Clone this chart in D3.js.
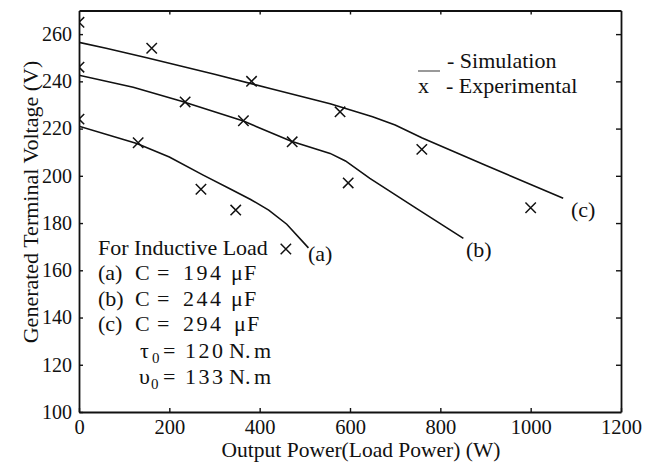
<!DOCTYPE html>
<html>
<head>
<meta charset="utf-8">
<script src="https://cdn.jsdelivr.net/npm/d3@7/dist/d3.min.js"></script>
<style>
  html, body { margin: 0; padding: 0; background: #fff; }
  svg { display: block; }
  text { font-family: "Liberation Serif", "Times New Roman", serif; fill: #111; }
</style>
</head>
<body>
<svg id="chart" width="658" height="464"></svg>
<script>
// Axis ticks
const powerTicks = [0, 200, 400, 600, 800, 1000, 1200];
const voltageTicks = [100, 120, 140, 160, 180, 200, 220, 240, 260];

// Simulated curves: output power (W) and terminal voltage (V)
const simAPower   = [0, 128, 200, 275, 334, 380, 420, 460, 508];
const simAVoltage = [221, 213.7, 208, 200.3, 194.5, 190, 185.5, 179.5, 169.5];

const simBPower   = [0, 120, 227, 364, 470, 556, 590, 644, 747, 851];
const simBVoltage = [242.6, 237.5, 231.6, 223.2, 214.6, 209.5, 206.3, 198.9, 186.2, 173.5];

const simCPower   = [0, 60, 150, 300, 423, 556, 650, 700, 760, 900, 1072];
const simCVoltage = [256.5, 254, 250, 243, 237, 230.5, 225, 221.5, 216, 204.5, 190.5];

// Experimental measurements
const expAPower   = [0, 131, 270, 347, 458];
const expAVoltage = [224, 214, 194.3, 185.5, 169];

const expBPower   = [0, 235, 364, 472, 596];
const expBVoltage = [246, 231.3, 223.3, 214.4, 197];

const expCPower   = [0, 161, 382, 578, 759, 1000];
const expCVoltage = [265, 254, 240, 227.1, 211.2, 186.5];

const curveNames = ["(a)", "(b)", "(c)"];

const svg = d3.select("#chart");
const plotLeft = 79, plotRight = 621, plotTop = 10.5, plotBottom = 412;

const x = d3.scaleLinear().domain([0, 1200]).range([plotLeft, plotRight]);
const y = d3.scaleLinear().domain([100, 270]).range([plotBottom, plotTop]);

// Clip region for the data marks
svg.append("defs").append("clipPath").attr("id", "plotClip")
  .append("rect").attr("x", plotLeft).attr("y", plotTop)
  .attr("width", plotRight - plotLeft).attr("height", plotBottom - plotTop);

// Axes with inward ticks
const axisStyle = g => {
  g.selectAll("path.domain").attr("stroke", "#111").attr("stroke-width", 1.8);
  g.selectAll(".tick line").attr("stroke", "#111").attr("stroke-width", 1.4);
  g.selectAll(".tick text").attr("fill", "#111");
};

svg.append("g").attr("transform", `translate(0,${plotBottom})`)
  .call(d3.axisBottom(x).tickValues(powerTicks).tickSizeInner(-4).tickSizeOuter(0).tickPadding(7.5).tickFormat(d3.format("d")))
  .call(axisStyle)
  .call(g => g.selectAll(".tick text").attr("font-size", 20.5));

svg.append("g").attr("transform", `translate(${plotLeft},0)`)
  .call(d3.axisLeft(y).tickValues(voltageTicks).tickSizeInner(-4).tickSizeOuter(0).tickPadding(7).tickFormat(d3.format("d")))
  .call(axisStyle)
  .call(g => g.selectAll(".tick text").attr("font-size", 20));

svg.append("g").attr("transform", `translate(0,${plotTop})`)
  .call(d3.axisTop(x).tickValues(powerTicks.slice(1, -1)).tickSizeInner(-4).tickSizeOuter(0).tickFormat(""))
  .call(axisStyle);

svg.append("g").attr("transform", `translate(${plotRight},0)`)
  .call(d3.axisRight(y).tickValues(voltageTicks.slice(1)).tickSizeInner(-5).tickSizeOuter(0).tickFormat(""))
  .call(axisStyle);

// Simulation lines
const line = d3.line().x(d => x(d[0])).y(d => y(d[1]));
const sims = [
  d3.zip(simAPower, simAVoltage),
  d3.zip(simBPower, simBVoltage),
  d3.zip(simCPower, simCVoltage)
];
svg.append("g").attr("clip-path", "url(#plotClip)")
  .selectAll("path").data(sims).join("path")
  .attr("d", line)
  .attr("fill", "none").attr("stroke", "#111").attr("stroke-width", 1.6);

// Experimental crosses
const exps = [
  d3.zip(expAPower, expAVoltage),
  d3.zip(expBPower, expBVoltage),
  d3.zip(expCPower, expCVoltage)
].flat();
const s = 5.2;
svg.append("g").attr("clip-path", "url(#plotClip)")
  .selectAll("path").data(exps).join("path")
  .attr("d", d => {
    const cx = x(d[0]), cy = y(d[1]);
    return `M${cx - s},${cy - s}L${cx + s},${cy + s}M${cx - s},${cy + s}L${cx + s},${cy - s}`;
  })
  .attr("fill", "none").attr("stroke", "#111").attr("stroke-width", 1.5);

// Curve labels at the end of each line
const labelPos = [[308, 261], [466, 257], [571, 217]];
svg.append("g").selectAll("text").data(curveNames).join("text")
  .attr("x", (d, i) => labelPos[i][0]).attr("y", (d, i) => labelPos[i][1])
  .attr("font-size", 22).text(d => d);

// Axis titles
svg.append("text").attr("x", 361).attr("y", 457).attr("text-anchor", "middle")
  .attr("font-size", 21.5).text("Output Power(Load Power) (W)");
svg.append("text").attr("transform", "translate(38,202) rotate(-90)").attr("text-anchor", "middle")
  .attr("font-size", 22).text("Generated Terminal Voltage (V)");

// Legend
svg.append("line").attr("x1", 418).attr("x2", 440).attr("y1", 71).attr("y2", 71)
  .attr("stroke", "#555").attr("stroke-width", 1.2);
svg.append("text").attr("x", 447).attr("y", 68).attr("font-size", 22).text("- Simulation");
svg.append("text").attr("x", 418).attr("y", 93).attr("font-size", 22).text("x");
svg.append("text").attr("x", 446).attr("y", 93).attr("font-size", 22).text("- Experimental");

// Operating conditions
const note = svg.append("g").attr("font-size", 22);
note.append("text").attr("x", 98).attr("y", 255).text("For Inductive Load");

const capLines = [["(a)", "194", 280, 231, 244], ["(b)", "244", 306, 231, 244], ["(c)", "294", 331, 234, 247]];
capLines.forEach(([tag, val, by, mux, fx]) => {
  const t = note.append("text").attr("y", by);
  t.append("tspan").attr("x", 98).text(tag);
  t.append("tspan").attr("x", 135).text("C");
  t.append("tspan").attr("x", 157).text("=");
  t.append("tspan").attr("x", 183).attr("letter-spacing", 2.5).text(val);
  t.append("tspan").attr("x", mux).text("\u03bc");
  t.append("tspan").attr("x", fx).text("F");
});

const torqueLines = [["\u03c4", "120", 358, 140], ["\u03c5", "133", 384, 139]];
torqueLines.forEach(([sym, val, by, sx]) => {
  const t = note.append("text").attr("y", by);
  t.append("tspan").attr("x", sx).text(sym);
  t.append("tspan").attr("x", sx + 12).attr("dy", 5).attr("font-size", 15).text("0");
  t.append("tspan").attr("x", 163).attr("dy", -5).text("=");
  t.append("tspan").attr("x", 185).attr("letter-spacing", 2.5).text(val);
  t.append("tspan").attr("x", 229).text("N.");
  t.append("tspan").attr("x", 254).text("m");
});
</script>
</body>
</html>
